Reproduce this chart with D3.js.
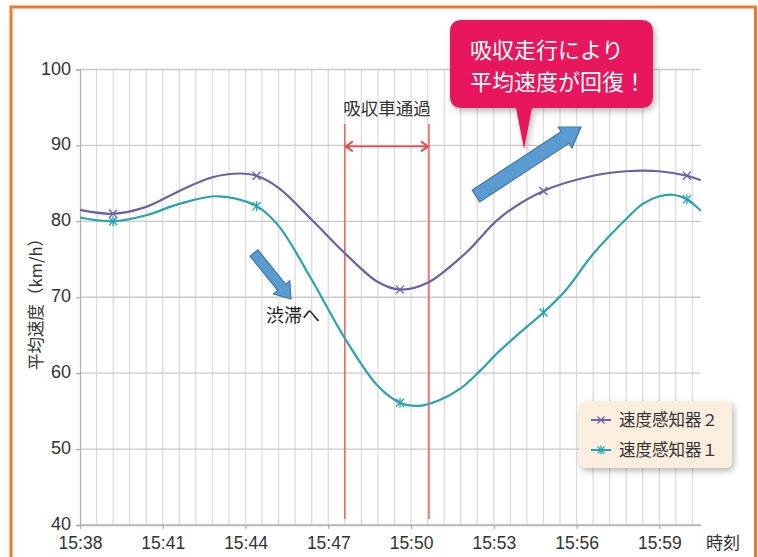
<!DOCTYPE html>
<html><head><meta charset="utf-8">
<script src="https://cdn.jsdelivr.net/npm/d3@7"></script>
<style>
html,body{margin:0;padding:0;background:#fff;}
svg{display:block;}
</style></head>
<body>
<svg id="c" width="758" height="557"></svg>
<script>
// ---- data (minutes after 15:38) ----
const times2  = [0,    1.2,  2.4,  3.6,  4.8,  5.8,  6.4,  7.2,  8.4,  9.6,  10.8, 11.6, 12.6, 14.0, 15.2, 16.8, 18.6, 19.8, 21.0, 22.0, 22.5];
const sensor2 = [81.5, 81.0, 81.9, 84.0, 85.8, 86.3, 86.0, 84.4, 80.2, 75.8, 72.0, 71.0, 71.9, 75.9, 80.4, 84.0, 86.0, 86.6, 86.6, 86.0, 85.4];
const times1  = [0,    1.2,  2.4,  3.6,  5.0,  6.4,  7.2,  8.4,  9.6,  10.8, 11.6, 12.3, 13.0, 13.8, 14.5, 15.2, 16.0, 16.8, 17.6, 18.6, 19.8, 20.4, 21.0, 21.5, 22.0, 22.5];
const sensor1 = [80.5, 80.0, 80.8, 82.3, 83.3, 82.0, 79.4, 72.3, 64.6, 58.3, 56.1, 55.7, 56.4, 58.0, 60.3, 62.9, 65.5, 68.0, 70.9, 75.7, 80.3, 82.3, 83.3, 83.5, 82.9, 81.4];
const markerTimes = [1.2, 6.4, 11.6, 16.8, 22.0];
const xTickVals = [0, 3, 6, 9, 12, 15, 18, 21];
const xTickLabels = ["15:38","15:41","15:44","15:47","15:50","15:53","15:56","15:59"];
const yTicks = [40, 50, 60, 70, 80, 90, 100];
const passStart = 9.6, passEnd = 12.65;
const seriesNames = ["速度感知器２", "速度感知器１"];

const svg = d3.select("#c");
const x = d3.scaleLinear().domain([0, 22.5]).range([80, 700.7]);
const y = d3.scaleLinear().domain([40, 100]).range([525, 69.5]);
const CJK = "'Liberation Sans','Noto Sans CJK JP',sans-serif";
const JP = "'Noto Sans CJK JP',sans-serif";

const defs = svg.append("defs");
const sh = defs.append("filter").attr("id","sh").attr("x","-20%").attr("y","-20%").attr("width","150%").attr("height","160%");
sh.append("feDropShadow").attr("dx",2).attr("dy",3).attr("stdDeviation",3).attr("flood-color","#000").attr("flood-opacity",0.28);

// orange frame
svg.append("rect").attr("x",11).attr("y",7).attr("width",744.5).attr("height",570)
  .attr("fill","none").attr("stroke","#F07A28").attr("stroke-width",3);

// vertical grid
const vg = d3.range(0.6, 22.3, 0.6);
svg.append("g").selectAll("line").data(vg).join("line")
  .attr("x1",d=>x(d)).attr("x2",d=>x(d)).attr("y1",y(100)).attr("y2",y(40))
  .attr("stroke","#dcdcdc").attr("stroke-width",1.3);
// horizontal grid
svg.append("g").selectAll("line").data(yTicks).join("line")
  .attr("x1",x(0)).attr("x2",x(22.5)).attr("y1",d=>y(d)).attr("y2",d=>y(d))
  .attr("stroke",d=>d===40?"#b8b8b8":"#c9c9c9").attr("stroke-width",1.4);

// axes
const yAx = svg.append("g").attr("transform",`translate(${x(0)},0)`)
  .call(d3.axisLeft(y).tickValues(yTicks).tickSize(4).tickPadding(5));
yAx.select(".domain").attr("stroke","#b0b0b0").attr("stroke-width",1.3);
yAx.selectAll(".tick line").attr("stroke","#b0b0b0").attr("stroke-width",1.3);
yAx.selectAll("text").attr("font-family",CJK).attr("font-size",18).attr("fill","#333").attr("dy","0.25em");

const xAx = svg.append("g").attr("transform",`translate(0,${y(40)})`)
  .call(d3.axisBottom(x).tickValues(xTickVals).tickFormat((d,i)=>xTickLabels[i]).tickSize(4).tickPadding(8).tickSizeOuter(0));
xAx.select(".domain").attr("stroke","#b8b8b8").attr("stroke-width",1.3);
xAx.selectAll(".tick line").attr("stroke","#b0b0b0").attr("stroke-width",1.3);
xAx.selectAll("text").attr("font-family",CJK).attr("font-size",17.5).attr("fill","#333");

// axis titles
svg.append("text").attr("transform","translate(42,300) rotate(-90)").attr("text-anchor","middle")
  .attr("font-family",JP).attr("font-size",16.5).attr("fill","#333").text("平均速度（km/h）");
svg.append("text").attr("x",723).attr("y",549).attr("text-anchor","middle")
  .attr("font-family",JP).attr("font-size",17).attr("fill","#333").text("時刻");

// pass-through markers
const red = "#EE4A4A";
[passStart, passEnd].forEach(t=>{
  svg.append("line").attr("x1",x(t)).attr("x2",x(t)).attr("y1",124).attr("y2",519)
    .attr("stroke","#F06868").attr("stroke-width",1.6);
});
const ay = y(90)+1;
svg.append("line").attr("x1",x(passStart)+1).attr("x2",x(passEnd)-1).attr("y1",ay).attr("y2",ay)
  .attr("stroke",red).attr("stroke-width",1.8);
svg.append("path").attr("d",`M${x(passStart)+8},${ay-5}L${x(passStart)+1},${ay}L${x(passStart)+8},${ay+5}`)
  .attr("fill","none").attr("stroke",red).attr("stroke-width",2);
svg.append("path").attr("d",`M${x(passEnd)-8},${ay-5}L${x(passEnd)-1},${ay}L${x(passEnd)-8},${ay+5}`)
  .attr("fill","none").attr("stroke",red).attr("stroke-width",2);
svg.append("text").attr("x",(x(passStart)+x(passEnd))/2).attr("y",115).attr("text-anchor","middle")
  .attr("font-family",JP).attr("font-size",17.5).attr("fill","#333").text("吸収車通過");

// lines
const colors = ["#6E5FA8", "#2AA3B1"];
const line = d3.line().x(d=>x(d[0])).y(d=>y(d[1])).curve(d3.curveCatmullRom.alpha(0.5));
const series = [[times2, sensor2], [times1, sensor1]];
series.forEach(([ts, s], k)=>{
  const pts = ts.map((t,i)=>[t,s[i]]);
  svg.append("path").datum(pts).attr("d",line).attr("fill","none")
    .attr("stroke",colors[k]).attr("stroke-width",2.2);
});

function marker(g, cx, cy, k, r){
  const c = colors[k];
  g.append("path").attr("d",`M${cx-r},${cy-r}L${cx+r},${cy+r}M${cx-r},${cy+r}L${cx+r},${cy-r}`)
    .attr("stroke",c).attr("stroke-width",1.3).attr("fill","none");
  if(k===1) g.append("path").attr("d",`M${cx},${cy-r-1}L${cx},${cy+r+1}`).attr("stroke",c).attr("stroke-width",1.3);
}
const mg = svg.append("g");
series.forEach(([ts, s], k)=>{
  markerTimes.forEach(t=>{
    const i = ts.indexOf(t);
    marker(mg, x(ts[i]), y(s[i]), k, 4);
  });
});

// blue arrows
function arrowPoly(x1,y1,x2,y2,sw,hw,hl){
  const dx=x2-x1, dy=y2-y1, L=Math.hypot(dx,dy), ux=dx/L, uy=dy/L, nx=-uy, ny=ux;
  const bx=x2-ux*hl, by=y2-uy*hl;
  const p=[[x1+nx*sw/2,y1+ny*sw/2],[bx+nx*sw/2,by+ny*sw/2],[bx+nx*hw/2,by+ny*hw/2],[x2,y2],
           [bx-nx*hw/2,by-ny*hw/2],[bx-nx*sw/2,by-ny*sw/2],[x1-nx*sw/2,y1-ny*sw/2]];
  return "M"+p.map(q=>q.join(",")).join("L")+"Z";
}
svg.append("path").attr("d",arrowPoly(476,196,581,127,14,25,19))
  .attr("fill","#5A9BD2").attr("stroke","#3F77A8").attr("stroke-width",1.2);
svg.append("path").attr("d",arrowPoly(254,253,291,299,10,21,15))
  .attr("fill","#5A9BD2").attr("stroke","#3F77A8").attr("stroke-width",1.2);
svg.append("text").attr("x",293).attr("y",322).attr("text-anchor","middle")
  .attr("font-family",JP).attr("font-size",18).attr("fill","#222").text("渋滞へ");

// callout
const cx0=450, cx1=653, cy0=20, cy1=108, r=12;
const cp = `M${cx0+r},${cy0}H${cx1-r}Q${cx1},${cy0} ${cx1},${cy0+r}V${cy1-r}Q${cx1},${cy1} ${cx1-r},${cy1}`+
  `H532L524,149L516,${cy1}H${cx0+r}Q${cx0},${cy1} ${cx0},${cy1-r}V${cy0+r}Q${cx0},${cy0} ${cx0+r},${cy0}Z`;
svg.append("path").attr("d",cp).attr("fill","#E8185C").attr("filter","url(#sh)");
svg.append("text").attr("x",470).attr("y",58).attr("font-family",JP).attr("font-size",22)
  .attr("fill","#fff").text("吸収走行により");
svg.append("text").attr("x",470).attr("y",90).attr("font-family",JP).attr("font-size",22)
  .attr("fill","#fff").text("平均速度が回復！");

// legend
const lg = svg.append("g");
lg.append("rect").attr("x",579).attr("y",401).attr("width",153).attr("height",67).attr("rx",6)
  .attr("fill","#FCEEDF").attr("filter","url(#sh)");
seriesNames.forEach((n,i)=>{
  const ly = 420 + i*30;
  const k = i;
  lg.append("line").attr("x1",591).attr("x2",611).attr("y1",ly).attr("y2",ly)
    .attr("stroke",colors[k]).attr("stroke-width",2);
  marker(lg, 601, ly, k, 3.5);
  lg.append("text").attr("x",619).attr("y",ly+6).attr("font-family",JP).attr("font-size",16.5)
    .attr("fill","#333").text(n);
});
</script>
</body></html>
